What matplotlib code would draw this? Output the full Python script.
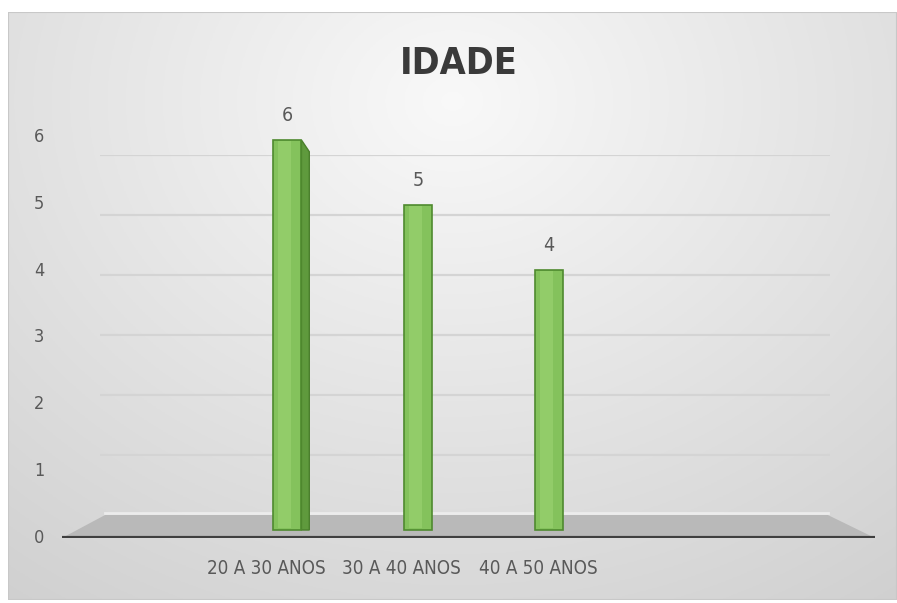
import os
import numpy as np
import matplotlib
matplotlib.use('Agg')
import matplotlib.pyplot as plt
from matplotlib import font_manager
from matplotlib.font_manager import FontProperties
from matplotlib.patches import Polygon

# data
categories = ['20 A 30 ANOS', '30 A 40 ANOS', '40 A 50 ANOS']
counts = [6, 5, 4]
y_ticks = [0, 1, 2, 3, 4, 5, 6]
title = 'IDADE'

W, H = 897, 603
text_col = '#595959'


def find_font(wanted):
    # look for a narrow face by file name, fall back to Roboto
    files = {os.path.basename(f.fname): f.fname for f in font_manager.fontManager.ttflist}
    files.update({os.path.basename(p): p for p in font_manager.findSystemFonts()})
    for w in wanted:
        if w in files:
            return FontProperties(fname=files[w])
    return None


narrow = find_font(['LiberationSansNarrow-Regular.ttf', 'DejaVuSansCondensed.ttf'])
narrow_b = find_font(['LiberationSansNarrow-Bold.ttf', 'DejaVuSansCondensed-Bold.ttf'])
if narrow is None:
    narrow = FontProperties(family='Roboto')
if narrow_b is None:
    narrow_b = FontProperties(family='Roboto', weight='bold')


def fp(base, size):
    p = base.copy()
    p.set_size(size)
    return p


def px_rect(left, top, right, bottom):
    # pixel box -> figure fraction rect
    return [left / W, 1 - bottom / H, (right - left) / W, (bottom - top) / H]


fig = plt.figure(figsize=(W / 100, H / 100), dpi=100)
fig.patch.set_facecolor('white')

# background panel with soft radial gradient
bg = fig.add_axes(px_rect(8, 12, 897, 600))
yy, xx = np.mgrid[0:1:200j, 0:1:300j]
r = np.sqrt(((xx - 0.5) / 0.8) ** 2 + ((yy - 0.15) / 1.0) ** 2)
shade = np.clip(0.975 - 0.15 * r, 0.8, 0.975)
bg.imshow(np.dstack([shade] * 3), aspect='auto', extent=(0, 1, 1, 0))
bg.set_axis_off()
bg.add_patch(plt.Rectangle((0, 0), 1, 1, transform=bg.transAxes, fill=False,
                           ec='#c8c8c8', lw=1.5))

# back wall gridlines
back = fig.add_axes(px_rect(100, 155, 830, 515))
back.set_ylim(0, 6)
back.set_xlim(0, 1)
back.set_axis_off()
for v in y_ticks[1:]:
    back.axhline(v, color='#d4d4d4', lw=1.6)
    back.axhline(v, color='#f7f7f7', lw=0.8, zorder=0)

# front axes with bars
ax = fig.add_axes(px_rect(62, 100, 875, 538))
ax.patch.set_alpha(0)
ax.set_xlim(-1.718, 4.489)
ax.set_ylim(-0.123, -0.123 + 438 / 65)
ax.set_axis_off()

# floor
floor = Polygon([(0, 0), (1, 0), (0.942, 0.0525), (0.053, 0.0525)],
                closed=True, transform=ax.transAxes, fc='#b9b9b9', ec='none', zorder=1)
ax.add_patch(floor)
ax.plot([0.053, 0.942], [0.056, 0.056], transform=ax.transAxes, color='#ececec', lw=2, zorder=1)
ax.plot([0, 1], [0, 0], transform=ax.transAxes, color='#3f3f3f', lw=3,
        solid_capstyle='butt', zorder=5)

x = np.arange(len(categories))
bw = 0.22
ax.bar(x, counts, width=bw, color='#84c25c', edgecolor='#4f8a2f', lw=1.2, zorder=3)
for i, v in enumerate(counts):
    # faint highlight stripe on the front face
    ax.bar(i - bw * 0.1, v - 0.05, width=bw * 0.45, bottom=0.03, color='#92cc69',
           lw=0, zorder=3.5)
    d = 0.06 * (1 - i)
    if d > 0:
        xr = i + bw / 2
        side = Polygon([(xr, 0), (xr, v), (xr + d, v - 0.18), (xr + d, 0)],
                       closed=True, fc='#5f9a3d', ec='#4a7f2c', lw=1, zorder=2.5)
        ax.add_patch(side)
    ax.annotate(str(v), (i, v), xytext=(0, 11), textcoords='offset points',
                ha='center', va='bottom', fontproperties=fp(narrow, 14), color=text_col)

shift = [-0.16, -0.13, -0.084]
for i, lab in enumerate(categories):
    ax.text(i + shift[i], -0.123 - 0.33, lab, ha='center', va='top',
            fontproperties=fp(narrow, 13.5), color=text_col)

# y labels
lab_ax = fig.add_axes(px_rect(20, 137, 52, 538))
lab_ax.set_ylim(0, 6)
lab_ax.set_xlim(0, 1)
lab_ax.set_axis_off()
for v in y_ticks:
    lab_ax.text(0.6, v, str(v), ha='center', va='center',
                fontproperties=fp(narrow, 13), color=text_col)

fig.text(459 / W, 1 - 64 / H, title, ha='center', va='center',
         fontproperties=fp(narrow_b, 27), color='#3a3a3a')

fig.savefig('out.png', dpi=100, facecolor='white')
